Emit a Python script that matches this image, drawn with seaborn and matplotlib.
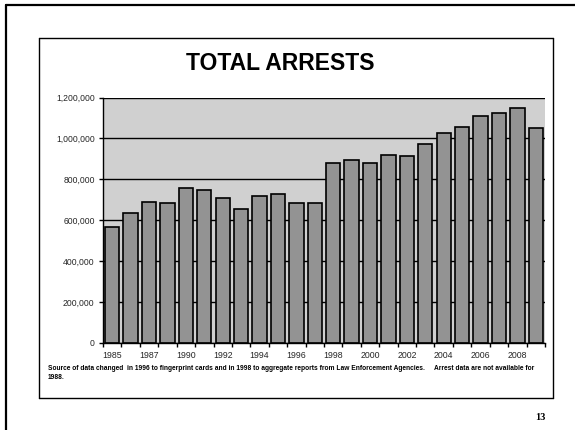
import matplotlib
matplotlib.use("Agg")
import matplotlib.pyplot as plt
from matplotlib.lines import Line2D
from matplotlib.ticker import FuncFormatter, FixedLocator
import seaborn as sns
import pandas as pd

years = ["1985", "1986", "1987", "1989", "1990", "1991", "1992", "1993",
         "1994", "1995", "1996", "1997", "1998", "1999", "2000", "2001",
         "2002", "2003", "2004", "2005", "2006", "2007", "2008", "2009"]
arrests = [567000, 633000, 691000, 684000, 759000, 750000, 707000, 657000,
           717000, 730000, 686000, 686000, 881000, 894000, 880000, 920000,
           914000, 972000, 1026000, 1057000, 1109000, 1123000, 1148000, 1049000]
shown_labels = ["1985", "1987", "1990", "1992", "1994", "1996", "1998",
                "2000", "2002", "2004", "2006", "2008"]
y_ticks = [0, 200000, 400000, 600000, 800000, 1000000, 1200000]
title = "TOTAL ARRESTS"
footnote = ("Source of data changed  in 1996 to fingerprint cards and in 1998 to aggregate reports from Law Enforcement Agencies.     "
            "Arrest data are not available for\n1988.")
page_no = "13"

sns.set_theme(style="white")
plt.rcParams['font.family'] = ['Liberation Sans', 'DejaVu Sans']

df = pd.DataFrame({"year": years, "arrests": arrests})

fig = plt.figure(figsize=(5.75, 4.3), dpi=100)
ax = fig.add_axes([103/575, 1-343/430, (545-103)/575, (343-97.5)/430])
ax.set_facecolor("#d0d0d0")
ax.set_axisbelow(True)

sns.barplot(data=df, x="year", y="arrests", order=years, color="#939393",
            saturation=1, edgecolor="black", linewidth=1.2, width=0.78, ax=ax)

ax.set_ylim(0, 1200000)
ax.set_xlim(-0.5, len(years) - 0.5)
ax.yaxis.set_major_locator(FixedLocator(y_ticks))
ax.yaxis.set_major_formatter(FuncFormatter(lambda v, p: f"{int(v):,}"))
ax.yaxis.grid(True, color="black", linewidth=1.0)
ax.xaxis.grid(False)

pos = [years.index(l) for l in shown_labels]
ax.set_xticks(pos)
ax.set_xticklabels(shown_labels)
ax.set_xticks([i + 0.5 for i in range(-1, len(years))], minor=True)
ax.tick_params(axis="x", which="major", length=0, pad=6, labelsize=6.3)
ax.tick_params(axis="x", which="minor", length=3, width=1, color="black", direction="out", bottom=True)
ax.tick_params(axis="y", length=3, width=1, color="black", direction="out", left=True, labelsize=6.2, pad=3)
ax.set_xlabel("")
ax.set_ylabel("")

for side in ["top", "right"]:
    ax.spines[side].set_visible(False)
for side in ["left", "bottom"]:
    ax.spines[side].set_visible(True)
    ax.spines[side].set_color("black")
    ax.spines[side].set_linewidth(1.0)

fig.text(280/575, 1-64/430, title, ha="center", va="center",
         fontsize=16.5, fontweight="bold", color="black")
fig.text(48/575, 1-373/430, footnote, ha="left", va="center",
         fontsize=4.75, fontweight="bold", color="black", linespacing=1.25)
fig.text(540/575, 1-418/430, page_no, ha="center", va="center",
         fontsize=7.5, fontweight="bold", color="black", family=["Liberation Serif", "DejaVu Serif"])

# slide frames
def fl(x0, y0, x1, y1, lw):
    fig.add_artist(Line2D([x0/575, x1/575], [1-y0/430, 1-y1/430], color="black", linewidth=lw))

fl(6, 5, 575, 5, 1.6)
fl(6, 5, 6, 430, 1.6)
fl(39, 38, 553, 38, 1.0)
fl(39, 38, 39, 398, 1.0)
fl(553, 38, 553, 398, 1.0)
fl(39, 398, 553, 398, 1.0)

fig.savefig("out.png", dpi=100)
